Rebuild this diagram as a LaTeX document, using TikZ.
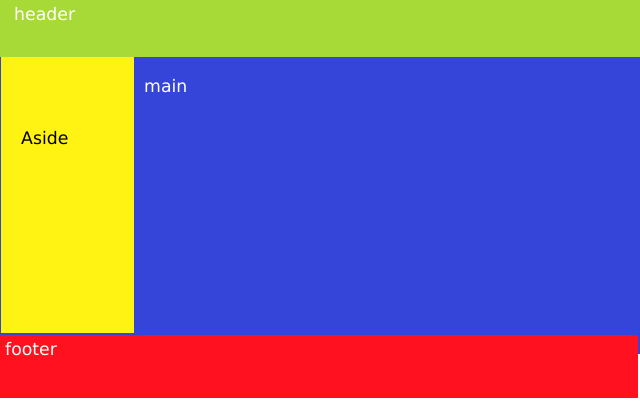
\documentclass[tikz,border=0pt]{standalone}
\usepackage{fontspec}
\setmainfont{DejaVu Sans}
\definecolor{hdr}{HTML}{A8DA37}
\definecolor{mn}{HTML}{3545D9}
\definecolor{asd}{HTML}{FFF314}
\definecolor{ftr}{HTML}{FF111F}
\tikzset{
  lbl/.style={anchor=base west, inner sep=0pt, font=\fontsize{17.3}{20}\selectfont},
}
\begin{document}
\begin{tikzpicture}[x=1pt,y=-1pt]
\useasboundingbox (0,0) rectangle (640,400);
\fill[white] (0,0) rectangle (640,400);
\fill[hdr] (0,0) rectangle (640,57);
\fill[mn] (0,57) rectangle (640,354);
\fill[asd] (1,57) rectangle (134,333);
\fill[ftr] (0,335) rectangle (638,398);
\node[lbl, text=white] (header) at (14,20.5) {header};
\node[lbl, text=white] (main) at (144,92) {main};
\node[lbl, text=black] (aside) at (21,144) {Aside};
\node[lbl, text=white] (footer) at (5,355) {footer};
\end{tikzpicture}
\end{document}
